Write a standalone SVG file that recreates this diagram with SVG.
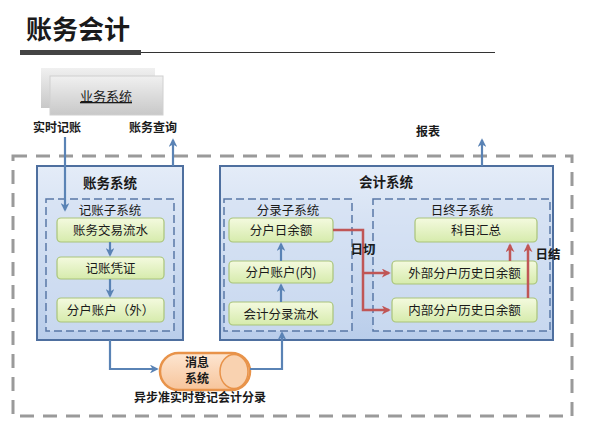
<svg xmlns="http://www.w3.org/2000/svg" width="589" height="434" viewBox="0 0 589 434">
<style>
text{font-family:"Noto Sans CJK SC","Noto Sans",sans-serif;fill:#1a1a1a;text-anchor:middle}
.b{font-weight:bold}
.lbl{font-size:12px;font-weight:bold}
.g{fill:url(#gg);stroke:#a9c47a;stroke-width:1.2}
.gt{font-size:12.5px}
.sys{fill:url(#bg);stroke:#4e6f9f;stroke-width:2}
.sub{fill:#d6e2f3;fill-opacity:0.5;stroke:#5a78a6;stroke-width:1.5;stroke-dasharray:8 4}
.bl{fill:none;stroke:#5a83b5;stroke-width:2.2}
.rd{fill:none;stroke:#c05656;stroke-width:2.5}
</style>
<defs>
<linearGradient id="gg" x1="0" y1="0" x2="0" y2="1"><stop offset="0" stop-color="#f4fadf"/><stop offset="1" stop-color="#d6ebac"/></linearGradient>
<linearGradient id="bg" x1="0" y1="0" x2="0" y2="1"><stop offset="0" stop-color="#e4ecf8"/><stop offset="1" stop-color="#b9cdea"/></linearGradient>
<linearGradient id="gr" x1="0" y1="0" x2="0" y2="1"><stop offset="0" stop-color="#f0f0f0"/><stop offset="1" stop-color="#c8c8c8"/></linearGradient>
<linearGradient id="og" x1="0" y1="0" x2="0" y2="1"><stop offset="0" stop-color="#fde6d2"/><stop offset="1" stop-color="#f7c49a"/></linearGradient>
<marker id="ab" viewBox="0 0 10 10" refX="8" refY="5" markerWidth="4" markerHeight="4" orient="auto"><path d="M0,0L10,5L0,10L3,5z" fill="#5a83b5"/></marker>
<marker id="ar" viewBox="0 0 10 10" refX="8" refY="5" markerWidth="3.6" markerHeight="3.6" orient="auto"><path d="M0,0L10,5L0,10L3,5z" fill="#c05656"/></marker>
</defs>

<g id="title">
<text x="78" y="39" class="b" style="font-size:26px">账务会计</text>
<line x1="20" y1="52.5" x2="495" y2="52.5" stroke="#333" stroke-width="1.2"/>
<rect x="20" y="50" width="121" height="5" fill="#444"/>
</g>

<g id="biz">
<rect x="41" y="68" width="114" height="40" fill="url(#gr)"/>
<rect x="50" y="76" width="113" height="39" fill="url(#gr)" stroke="#d0d0d0"/>
<text x="106" y="101" style="font-size:13px;text-decoration:underline">业务系统</text>
</g>

<g id="outer"><path d="M13,156H572V416H13Z" fill="none" stroke="#9a9a9a" stroke-width="3" stroke-dasharray="14 9"/></g>

<g id="acct-sys">
<rect class="sys" x="37" y="166" width="146" height="174"/>
<text x="110" y="188" class="b" style="font-size:13.5px">账务系统</text>
<rect class="sub" x="46" y="199" width="128" height="132"/>
<text x="110" y="215" style="font-size:12.5px">记账子系统</text>
</g>
<g id="n1"><rect class="g" x="57" y="218" width="107" height="24" rx="4"/><text class="gt" x="110.5" y="235">账务交易流水</text></g>
<g id="n2"><rect class="g" x="57" y="257" width="107" height="22" rx="4"/><text class="gt" x="110.5" y="273">记账凭证</text></g>
<g id="n3"><rect class="g" x="57" y="298" width="107" height="24" rx="4"/><text class="gt" x="110.5" y="315">分户账户（外）</text></g>

<g id="fin-sys">
<rect class="sys" x="220" y="166" width="333" height="174"/>
<text x="386" y="187" class="b" style="font-size:13.5px">会计系统</text>
<rect class="sub" x="224" y="199" width="128" height="132"/>
<text x="288" y="215" style="font-size:12.5px">分录子系统</text>
<rect class="sub" x="373" y="199" width="177" height="132"/>
<text x="462" y="215" style="font-size:12.5px">日终子系统</text>
</g>
<g id="m1"><rect class="g" x="229" y="218" width="104" height="24" rx="4"/><text class="gt" x="281" y="235">分户日余额</text></g>
<g id="m2"><rect class="g" x="229" y="261" width="104" height="22" rx="4"/><text class="gt" x="281" y="277">分户账户(内)</text></g>
<g id="m3"><rect class="g" x="229" y="302" width="104" height="23" rx="4"/><text class="gt" x="281" y="319">会计分录流水</text></g>
<g id="d1"><rect class="g" x="415" y="218" width="122" height="24" rx="4"/><text class="gt" x="476" y="235">科目汇总</text></g>
<g id="d2"><rect class="g" x="392" y="261" width="145" height="23" rx="4"/><text class="gt" x="464.5" y="278">外部分户历史日余额</text></g>
<g id="d3"><rect class="g" x="392" y="298" width="145" height="24" rx="4"/><text class="gt" x="464.5" y="315">内部分户历史日余额</text></g>

<g id="mq">
<rect x="160" y="353" width="90" height="37" rx="18.5" fill="url(#og)" stroke="#e8934a" stroke-width="2.5"/>
<ellipse cx="234" cy="371.5" rx="14" ry="17" fill="#f9d2b0" stroke="#e8934a" stroke-width="1.5"/>
<text x="197" y="367" class="b" style="font-size:12px">消息</text>
<text x="197" y="383" class="b" style="font-size:12px">系统</text>
</g>

<g id="connectors">
<path class="bl" d="M65,137V210" marker-end="url(#ab)"/>
<path class="bl" d="M173,166V140" marker-end="url(#ab)"/>
<path class="bl" d="M482,166V140" marker-end="url(#ab)"/>
<path class="bl" d="M110,242V255" marker-end="url(#ab)"/>
<path class="bl" d="M110,279V296" marker-end="url(#ab)"/>
<path class="bl" d="M281,302V285" marker-end="url(#ab)"/>
<path class="bl" d="M281,261V244" marker-end="url(#ab)"/>
<path class="bl" d="M110,340V369H157" marker-end="url(#ab)"/>
<path class="bl" d="M250,369H282V333" marker-end="url(#ab)"/>
<path class="rd" d="M333,230H363V310H389" marker-end="url(#ar)"/>
<path class="rd" d="M363,273H389" marker-end="url(#ar)"/>
<path class="rd" d="M510,261V245" marker-end="url(#ar)"/>
<path class="rd" d="M528,298V245" marker-end="url(#ar)"/>
</g>

<g id="labels">
<text x="57" y="132" class="lbl">实时记账</text>
<text x="153" y="132" class="lbl">账务查询</text>
<text x="428" y="136" class="lbl">报表</text>
<text x="363" y="254" class="lbl" style="font-size:12.5px">日切</text>
<text x="548" y="259" class="lbl" style="font-size:12.5px">日结</text>
<text x="200" y="402" class="lbl">异步准实时登记会计分录</text>
</g>
</svg>
